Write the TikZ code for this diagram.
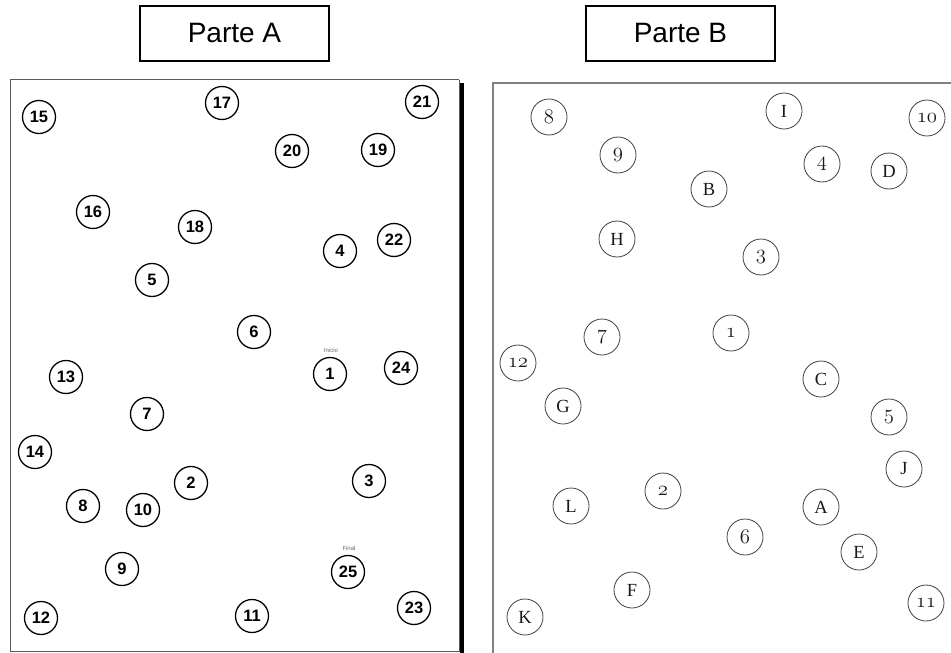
\documentclass[tikz,border=0pt]{standalone}
\usepackage{fontspec}
\newfontfamily\arialfont{Liberation Sans}
\newfontfamily\timesfont{Liberation Serif}
\begin{document}
\begin{tikzpicture}[x=1pt,y=-1pt,
  titlebox/.style={draw,line width=1.2pt,minimum width=189pt,minimum height=55pt,inner sep=0pt,
    font=\arialfont\fontsize{28}{28}\selectfont},
  ca/.style={circle,draw,line width=1.3pt,minimum size=33pt,inner sep=0pt,
    font=\arialfont\bfseries\fontsize{16.5}{16.5}\selectfont},
  cb/.style={circle,draw=black!75,line width=0.8pt,minimum size=36pt,inner sep=0pt,
    text=black!90,font=\timesfont\fontsize{18.5}{18.5}\selectfont},
  tiny/.style={inner sep=0pt,text=black!60,font=\arialfont\fontsize{6}{6}\selectfont},
  abord/.style={draw=black!65,line width=1pt},
  bbord/.style={draw=black!50,line width=1.2pt}]
\newcommand{\osn}[1]{{\usefont{OML}{cmm}{m}{it}\fontsize{20.74}{20.74}\selectfont#1}}
\useasboundingbox (0,0) rectangle (951,653);
% titles
\node[titlebox] (ta) at (234.5,33.5) {Parte A};
\node[titlebox] (tb) at (680.5,33.5) {Parte B};
% panel A
\coordinate (a_tl) at (10,79.5);
\coordinate (a_tr) at (459,79.5);
\coordinate (a_bl) at (10,651.5);
\coordinate (a_br) at (459,651.5);
\draw[abord] (a_tr) -- (a_tl) -- (a_bl) -- (a_br) -- (a_tr);
\fill[black] (460,83) rectangle (464,653);
% panel B
\coordinate (b_tr) at (951,83);
\coordinate (b_tl) at (493,83);
\coordinate (b_bl) at (493,653);
\draw[bbord] (b_tr) -- (b_tl) -- (b_bl);
% Part A circles
\node[ca] (a15) at (39,117) {15};
\node[ca] (a17) at (222,103) {17};
\node[ca] (a21) at (422,102) {21};
\node[ca] (a20) at (292,151) {20};
\node[ca] (a19) at (378,150) {19};
\node[ca] (a16) at (93,212) {16};
\node[ca] (a18) at (195,227) {18};
\node[ca] (a4) at (340,251) {4};
\node[ca] (a22) at (394,240) {22};
\node[ca] (a5) at (152,280) {5};
\node[ca] (a6) at (254,332) {6};
\node[ca] (a13) at (66,377) {13};
\node[ca] (a1) at (330,374) {1};
\node[ca] (a24) at (401,368) {24};
\node[ca] (a7) at (147,414) {7};
\node[ca] (a14) at (35,452) {14};
\node[ca] (a2) at (191,483) {2};
\node[ca] (a3) at (369,481) {3};
\node[ca] (a8) at (83,506) {8};
\node[ca] (a10) at (143,510) {10};
\node[ca] (a9) at (122,569) {9};
\node[ca] (a25) at (348,572) {25};
\node[ca] (a12) at (41,618) {12};
\node[ca] (a11) at (252,616) {11};
\node[ca] (a23) at (414,608) {23};
\node[tiny] (inicio) at (331,350) {Inicio};
\node[tiny] (final) at (349,548) {Final};
% Part B circles
\node[cb] (b8) at (549,117) {\osn{8}};
\node[cb] (bI) at (784,111) {I};
\node[cb] (b10) at (927,118) {\osn{10}};
\node[cb] (b9) at (618,155) {\osn{9}};
\node[cb] (b4) at (822,164) {\osn{4}};
\node[cb] (bD) at (889,171) {D};
\node[cb] (bB) at (709,189) {B};
\node[cb] (bH) at (617,239) {H};
\node[cb] (b3) at (761,257) {\osn{3}};
\node[cb] (b7) at (602,337) {\osn{7}};
\node[cb] (b1) at (731,333) {\osn{1}};
\node[cb] (b12) at (518,363) {\osn{12}};
\node[cb] (bC) at (821,379) {C};
\node[cb] (bG) at (563,406) {G};
\node[cb] (b5) at (889,417) {\osn{5}};
\node[cb] (bJ) at (904,469) {J};
\node[cb] (b2) at (663,491) {\osn{2}};
\node[cb] (bL) at (571,506) {L};
\node[cb] (bA) at (821,507) {A};
\node[cb] (b6) at (745,537) {\osn{6}};
\node[cb] (bE) at (859,552) {E};
\node[cb] (bF) at (632,590) {F};
\node[cb] (bK) at (525,617) {K};
\node[cb] (b11) at (926,603) {\osn{11}};
\end{tikzpicture}
\end{document}
